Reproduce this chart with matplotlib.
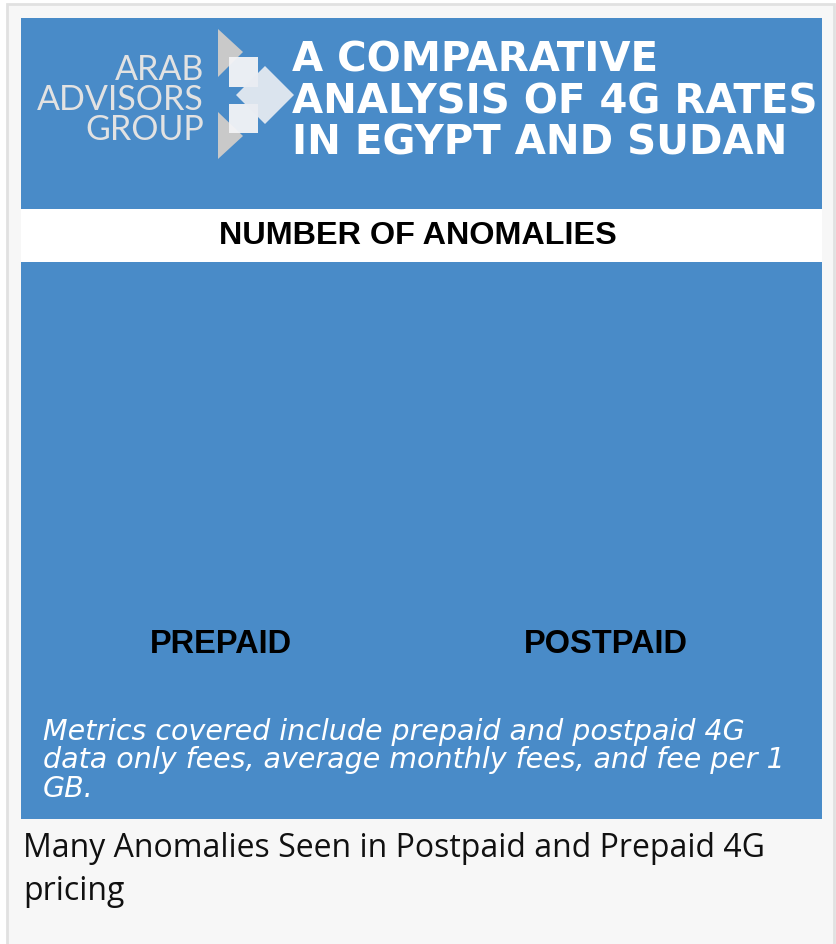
import matplotlib
matplotlib.use("Agg")
import matplotlib.pyplot as plt
from matplotlib.patches import Rectangle, Polygon

# ---- data / text ----
categories = ["PREPAID", "POSTPAID"]
chart_title = "NUMBER OF ANOMALIES"
header_lines = ["A COMPARATIVE", "ANALYSIS OF 4G RATES", "IN EGYPT AND SUDAN"]
logo_lines = ["ARAB", "ADVISORS", "GROUP"]
note_lines = ["Metrics covered include prepaid and postpaid 4G",
              "data only fees, average monthly fees, and fee per 1",
              "GB."]
caption_lines = ["Many Anomalies Seen in Postpaid and Prepaid 4G", "pricing"]

W, H = 836, 945
BLUE = "#498bc8"

fig = plt.figure(figsize=(W / 100, H / 100), dpi=100)
fig.patch.set_facecolor("white")

def fx(x):
    return x / W

def fy(y):
    return 1 - y / H

def rect(x0, y0, x1, y1, **kw):
    fig.add_artist(Rectangle((fx(x0), fy(y1)), fx(x1) - fx(x0), fy(y0) - fy(y1),
                             transform=fig.transFigure, **kw))

# outer frame
rect(7, 5, 834, 948, facecolor="#f7f7f7", edgecolor="#e1e1e1", linewidth=2, zorder=-3)
# blue panel
rect(21, 19, 822, 820, facecolor=BLUE, edgecolor="none", zorder=-2)
# white title band
rect(21, 210, 822, 263, facecolor="white", edgecolor="none", zorder=-1)

# logo shapes
tri_col = "#c9c9c9"
for (a, b, c) in [((218, 30), (218, 78), (243, 53)), ((218, 113), (218, 160), (243, 137))]:
    fig.add_artist(Polygon([(fx(p[0]), fy(p[1])) for p in (a, b, c)], closed=True,
                           transform=fig.transFigure, facecolor=tri_col, edgecolor="none"))
for (x0, y0, x1, y1) in [(229, 58, 258, 88), (229, 105, 258, 134)]:
    rect(x0, y0, x1, y1, facecolor="#f4f4f6", edgecolor="none", alpha=0.95)
cx, cy, r = 265, 96, 29
fig.add_artist(Polygon([(fx(cx - r), fy(cy)), (fx(cx), fy(cy - r)), (fx(cx + r), fy(cy)),
                        (fx(cx), fy(cy + r))], closed=True, transform=fig.transFigure,
                       facecolor="#e9ecf2", edgecolor="none", alpha=0.92))

# logo text
for i, t in enumerate(logo_lines):
    fig.text(fx(204), fy(80 + i * 30), t, ha="right", va="baseline", color="#e2e2e2",
             fontsize=24.5, fontfamily="Lato", fontweight="normal")

# header text
for i, t in enumerate(header_lines):
    fig.text(fx(292), fy(72 + i * 41.5), t, ha="left", va="baseline", color="white",
             fontsize=29.0, fontfamily="DejaVu Sans", fontweight="bold")

# title in band
fig.text(fx(418), fy(244), chart_title, ha="center", va="baseline", color="black",
         fontsize=23.3, fontfamily="Liberation Sans", fontweight="bold")

# chart axes (blue area)
ax = fig.add_axes([fx(21), fy(705), fx(822) - fx(21), fy(263) - fy(705)], zorder=3)
ax.patch.set_visible(False)
ax.set_xlim(-0.52, 1.563)
ax.set_ylim(0, 1)
ax.set_xticks(range(len(categories)))
ax.set_xticklabels(categories)
ax.tick_params(axis="x", length=0, pad=-55, labelsize=23.5, labelcolor="black")
for lbl in ax.get_xticklabels():
    lbl.set_fontfamily("Liberation Sans")
    lbl.set_fontweight("bold")
ax.set_yticks([])
for s in ax.spines.values():
    s.set_visible(False)

# note text
for i, t in enumerate(note_lines):
    fig.text(fx(43), fy(740 + i * 28.5), t, ha="left", va="baseline", color="white",
             fontsize=20.5, fontfamily="DejaVu Sans", fontstyle="italic")

# caption
for i, t in enumerate(caption_lines):
    fig.text(fx(23), fy(857 + i * 43), t, ha="left", va="baseline", color="#111111",
             fontsize=23, fontfamily="Open Sans")

fig.savefig("out.png", dpi=100, facecolor=fig.get_facecolor())
